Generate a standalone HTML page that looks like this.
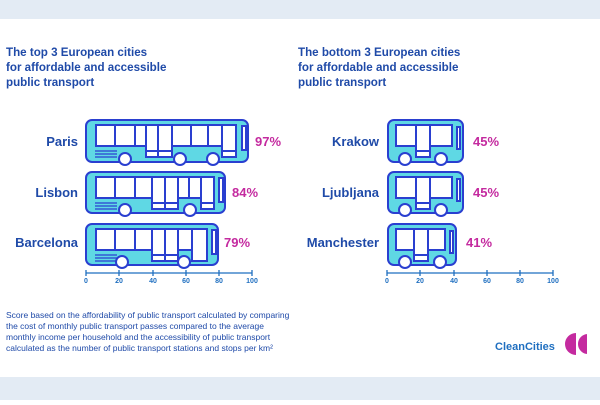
<!DOCTYPE html>
<html><head><meta charset="utf-8"><style>
body{margin:0;width:600px;height:400px;overflow:hidden;background:#fff;font-family:"Liberation Sans",sans-serif}
</style></head><body>
<svg width="600" height="400" xmlns="http://www.w3.org/2000/svg" font-family="Liberation Sans, sans-serif">
<rect x="0" y="0" width="600" height="19" fill="#e3ebf4"/>
<rect x="0" y="377" width="600" height="23" fill="#e3ebf4"/>
<g fill="#1f4aa8" font-size="11.6" font-weight="bold">
<text x="6" y="56">The top 3 European cities</text>
<text x="6" y="71">for affordable and accessible</text>
<text x="6" y="86">public transport</text>
<text x="298" y="56">The bottom 3 European cities</text>
<text x="298" y="71">for affordable and accessible</text>
<text x="298" y="86">public transport</text>
</g>
<g stroke="#2a3fd0" stroke-width="2">
<rect x="86" y="120" width="162" height="42" rx="6" fill="#5fd8e4"/>
<rect x="96" y="125" width="140" height="21" fill="#fff"/>
<rect x="146" y="125" width="26" height="32" fill="#fff"/>
<rect x="222" y="125" width="14" height="32" fill="#fff"/>
<path d="M115 125v21M135 125v21M158 125v32M191 125v21M208 125v21M146 151h26M222 151h14" fill="none"/>
<rect x="242" y="126" width="4" height="24" fill="#fff"/>
<path d="M95 151h22M95 154h22M95 157h22" stroke-width="1.2"/>
<circle cx="125" cy="159" r="6" fill="#fff"/><circle cx="180" cy="159" r="6" fill="#fff"/><circle cx="213" cy="159" r="6" fill="#fff"/>
<rect x="86" y="172" width="139" height="41" rx="6" fill="#5fd8e4"/>
<rect x="96" y="177" width="118" height="21" fill="#fff"/>
<rect x="152" y="177" width="26" height="32" fill="#fff"/>
<rect x="201" y="177" width="13" height="32" fill="#fff"/>
<path d="M115 177v21M135 177v21M165 177v32M189 177v21M152 203h26M201 203h13" fill="none"/>
<rect x="219" y="178" width="4" height="24" fill="#fff"/>
<path d="M95 203h22M95 206h22M95 209h22" stroke-width="1.2"/>
<circle cx="125" cy="210" r="6" fill="#fff"/><circle cx="190" cy="210" r="6" fill="#fff"/>
<rect x="86" y="224" width="132" height="41" rx="6" fill="#5fd8e4"/>
<rect x="96" y="229" width="111" height="21" fill="#fff"/>
<rect x="152" y="229" width="26" height="32" fill="#fff"/>
<rect x="192" y="229" width="15" height="32" fill="#fff"/>
<path d="M115 229v21M135 229v21M165 229v32M178 229v21M152 255h26" fill="none"/>
<rect x="212" y="230" width="4" height="24" fill="#fff"/>
<path d="M95 255h22M95 258h22M95 261h22" stroke-width="1.2"/>
<circle cx="122" cy="262" r="6" fill="#fff"/><circle cx="184" cy="262" r="6" fill="#fff"/>
<rect x="388" y="120" width="75" height="42" rx="6" fill="#5fd8e4"/>
<rect x="396" y="125" width="56" height="21" fill="#fff"/>
<rect x="416" y="125" width="14" height="32" fill="#fff"/>
<path d="M416 151h14" fill="none"/>
<rect x="457" y="127" width="3" height="22" fill="#fff"/>
<circle cx="405" cy="159" r="6" fill="#fff"/><circle cx="441" cy="159" r="6" fill="#fff"/>
<rect x="388" y="172" width="75" height="41" rx="6" fill="#5fd8e4"/>
<rect x="396" y="177" width="56" height="21" fill="#fff"/>
<rect x="416" y="177" width="14" height="32" fill="#fff"/>
<path d="M416 203h14" fill="none"/>
<rect x="457" y="179" width="3" height="22" fill="#fff"/>
<circle cx="405" cy="210" r="6" fill="#fff"/><circle cx="441" cy="210" r="6" fill="#fff"/>
<rect x="388" y="224" width="68" height="41" rx="6" fill="#5fd8e4"/>
<rect x="396" y="229" width="49" height="21" fill="#fff"/>
<rect x="414" y="229" width="14" height="32" fill="#fff"/>
<path d="M414 255h14" fill="none"/>
<rect x="450" y="231" width="3" height="22" fill="#fff"/>
<circle cx="405" cy="262" r="6" fill="#fff"/><circle cx="440" cy="262" r="6" fill="#fff"/>
</g>
<g stroke="#1f6fc0" stroke-width="1.3">
<path d="M86 273h166M86 270v6M119 270v6M153 270v6M186 270v6M219 270v6M252 270v6"/>
<path d="M387 273h166M387 270v6M420 270v6M454 270v6M487 270v6M520 270v6M553 270v6"/>
</g>
<g fill="#1f6fc0" font-size="7" font-weight="bold" text-anchor="middle">
<text x="86" y="283">0</text><text x="119" y="283">20</text><text x="153" y="283">40</text><text x="186" y="283">60</text><text x="219" y="283">80</text><text x="252" y="283">100</text>
<text x="387" y="283">0</text><text x="420" y="283">20</text><text x="454" y="283">40</text><text x="487" y="283">60</text><text x="520" y="283">80</text><text x="553" y="283">100</text>
</g>
<g fill="#1f4aa8" font-size="13" font-weight="bold" text-anchor="end">
<text x="78" y="146">Paris</text><text x="78" y="197">Lisbon</text><text x="78" y="247">Barcelona</text>
<text x="379" y="146">Krakow</text><text x="379" y="197">Ljubljana</text><text x="379" y="247">Manchester</text>
</g>
<g fill="#c42a9f" font-size="13" font-weight="bold">
<text x="255" y="146">97%</text><text x="232" y="197">84%</text><text x="224" y="247">79%</text>
<text x="473" y="146">45%</text><text x="473" y="197">45%</text><text x="466" y="247">41%</text>
</g>
<g fill="#1f4aa8" font-size="8.5">
<text x="6" y="318">Score based on the affordability of public transport calculated by comparing</text>
<text x="6" y="329">the cost of monthly public transport passes compared to the average</text>
<text x="6" y="340">monthly income per household and the accessibility of public transport</text>
<text x="6" y="351">calculated as the number of public transport stations and stops per km²</text>
</g>
<text x="495" y="350" fill="#1f6fc0" font-size="11" font-weight="bold">CleanCities</text>
<path d="M576 333 a11 11 0 0 0 0 22z" fill="#c42a9f"/>
<path d="M588 333 a11 11 0 0 0 0 22z" fill="#c42a9f" stroke="#fff" stroke-width="2"/>
</svg>
</body></html>
